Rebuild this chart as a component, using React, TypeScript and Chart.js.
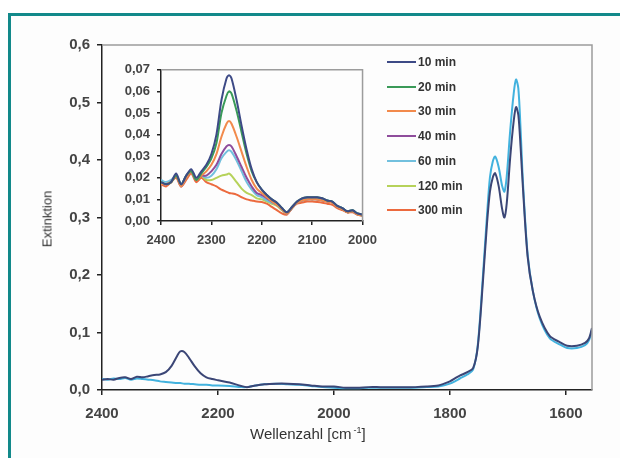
import React, { useEffect, useRef } from "react";
import { Chart, registerables } from "chart.js";

Chart.register(...registerables);

const FONT = "'Liberation Sans', Arial, Helvetica, sans-serif";

// ---------- main chart data ----------
const mainX = [
  2400, 2390, 2380, 2370, 2360, 2350, 2340, 2330, 2320, 2310, 2300,
  2290, 2280, 2270, 2265, 2258, 2250, 2240, 2230, 2220, 2210, 2200,
  2180, 2160, 2150, 2140, 2120, 2100, 2080, 2060, 2040, 2020, 2000,
  1980, 1960, 1940, 1920, 1900, 1880, 1860, 1840, 1820, 1810, 1800,
  1790, 1783, 1770, 1760, 1752, 1743, 1736, 1731, 1726, 1722,
  1716, 1710, 1706, 1702, 1696, 1690, 1686, 1682, 1678, 1674,
  1666, 1657, 1645, 1628, 1610, 1598, 1581, 1567, 1560, 1555,
];
const main10min = [
  0.018, 0.019, 0.018, 0.021, 0.022, 0.019, 0.023, 0.022, 0.024, 0.026, 0.027,
  0.031, 0.042, 0.06, 0.067, 0.066, 0.056, 0.041, 0.029, 0.022, 0.019, 0.017,
  0.013, 0.007, 0.005, 0.007, 0.01, 0.011, 0.011, 0.01, 0.008, 0.006, 0.006,
  0.004, 0.004, 0.005, 0.005, 0.005, 0.005, 0.005, 0.006, 0.008, 0.011, 0.015,
  0.021, 0.025, 0.031, 0.038, 0.075, 0.19, 0.29, 0.345, 0.37, 0.377,
  0.355, 0.315, 0.3, 0.325, 0.405, 0.468, 0.492, 0.478, 0.42, 0.35,
  0.232, 0.172, 0.127, 0.094, 0.083, 0.077, 0.077, 0.082, 0.09, 0.108,
];
const mainLate = [
  0.019, 0.018, 0.02, 0.019, 0.021, 0.018, 0.02, 0.019, 0.018, 0.017, 0.015,
  0.014, 0.013, 0.012, 0.012, 0.011, 0.011, 0.01, 0.009, 0.009, 0.008, 0.008,
  0.007, 0.005, 0.005, 0.007, 0.01, 0.011, 0.01, 0.009, 0.007, 0.005, 0.004,
  0.003, 0.003, 0.004, 0.004, 0.004, 0.004, 0.004, 0.005, 0.006, 0.008, 0.011,
  0.016, 0.02, 0.027, 0.036, 0.078, 0.2, 0.305, 0.37, 0.398, 0.406,
  0.388, 0.355, 0.345, 0.372, 0.452, 0.516, 0.54, 0.524, 0.45, 0.36,
  0.236, 0.172, 0.124, 0.09, 0.079, 0.073, 0.073, 0.078, 0.087, 0.105,
];
const mainXTicks = [2400, 2200, 2000, 1800, 1600];
const mainYTicks = [0, 0.1, 0.2, 0.3, 0.4, 0.5, 0.6];

// ---------- inset data ----------
const insetX = [
  2400, 2390, 2380, 2370, 2360, 2350, 2340, 2330, 2320,
  2310, 2300, 2290, 2280, 2270, 2265, 2260, 2250, 2240, 2230, 2220, 2210, 2200,
  2190, 2180, 2170, 2160, 2150, 2140, 2130, 2120, 2110, 2100,
  2090, 2080, 2070, 2060, 2050, 2040, 2030, 2020, 2010, 2000,
];
const ins10 = [
  0.018, 0.017, 0.018, 0.022, 0.017, 0.021, 0.024, 0.02, 0.023,
  0.026, 0.031, 0.04, 0.056, 0.066, 0.0675, 0.066, 0.056, 0.044, 0.033, 0.024, 0.018, 0.0145,
  0.012, 0.01, 0.0085, 0.006, 0.004, 0.0065, 0.009, 0.0105, 0.011, 0.011,
  0.011, 0.0105, 0.0095, 0.009, 0.007, 0.006, 0.0045, 0.005, 0.0035, 0.003,
];
const ins20 = [
  0.018, 0.017, 0.018, 0.021, 0.017, 0.021, 0.023, 0.019, 0.022,
  0.025, 0.029, 0.036, 0.05, 0.058, 0.06, 0.059, 0.051, 0.041, 0.031, 0.023, 0.018, 0.0145,
  0.012, 0.01, 0.0085, 0.006, 0.004, 0.0065, 0.009, 0.0105, 0.011, 0.011,
  0.011, 0.0105, 0.0095, 0.009, 0.007, 0.006, 0.0045, 0.005, 0.0035, 0.003,
];
const ins30 = [
  0.017, 0.017, 0.018, 0.021, 0.016, 0.02, 0.023, 0.019, 0.021,
  0.023, 0.026, 0.031, 0.039, 0.045, 0.0463, 0.045, 0.039, 0.032, 0.025, 0.019, 0.015, 0.013,
  0.011, 0.009, 0.0075, 0.0055, 0.0035, 0.006, 0.0085, 0.0095, 0.01, 0.01,
  0.01, 0.0095, 0.009, 0.0085, 0.0065, 0.0055, 0.004, 0.0045, 0.003, 0.0025,
];
const ins40 = [
  0.017, 0.017, 0.018, 0.021, 0.016, 0.02, 0.023, 0.019, 0.021,
  0.021, 0.023, 0.026, 0.031, 0.0345, 0.0352, 0.0345, 0.03, 0.025, 0.02, 0.016, 0.013, 0.012,
  0.0105, 0.009, 0.0075, 0.0055, 0.0035, 0.006, 0.0085, 0.0095, 0.01, 0.01,
  0.01, 0.0095, 0.009, 0.0085, 0.0065, 0.0055, 0.004, 0.0045, 0.003, 0.0025,
];
const ins60 = [
  0.019, 0.018, 0.019, 0.021, 0.017, 0.021, 0.023, 0.019, 0.021,
  0.02, 0.021, 0.024, 0.029, 0.032, 0.0327, 0.032, 0.028, 0.023, 0.018, 0.0145, 0.012, 0.011,
  0.0095, 0.0085, 0.0075, 0.0055, 0.0035, 0.006, 0.0085, 0.0095, 0.0105, 0.0105,
  0.0105, 0.01, 0.0095, 0.009, 0.007, 0.006, 0.0045, 0.005, 0.0035, 0.0028,
];
const ins120 = [
  0.018, 0.017, 0.018, 0.021, 0.017, 0.02, 0.023, 0.019, 0.021,
  0.019, 0.019, 0.02, 0.021, 0.0215, 0.022, 0.021, 0.018, 0.015, 0.013, 0.012, 0.0105, 0.01,
  0.009, 0.008, 0.007, 0.005, 0.0035, 0.006, 0.0085, 0.0095, 0.01, 0.01,
  0.01, 0.0095, 0.009, 0.0085, 0.0065, 0.0055, 0.004, 0.0045, 0.003, 0.0025,
];
const ins300 = [
  0.017, 0.016, 0.018, 0.02, 0.016, 0.019, 0.022, 0.018, 0.02,
  0.018, 0.017, 0.016, 0.0145, 0.0135, 0.013, 0.0128, 0.0122, 0.011, 0.01, 0.0095, 0.009, 0.0088,
  0.008, 0.0065, 0.005, 0.0035, 0.003, 0.006, 0.008, 0.0085, 0.009, 0.009,
  0.0088, 0.0085, 0.008, 0.0075, 0.006, 0.005, 0.004, 0.004, 0.003, 0.0025,
];
const insetXTicks = [2400, 2300, 2200, 2100, 2000];
const insetYTicks = [0, 0.01, 0.02, 0.03, 0.04, 0.05, 0.06, 0.07];

const seriesLabels = ["10 min", "20 min", "30 min", "40 min", "60 min", "120 min", "300 min"];
const seriesColors = ["#3d4a86", "#3a9a58", "#f28a4c", "#8f4d9c", "#72c0de", "#b6d25a", "#ec6a3e"];
const insetSeries = [ins10, ins20, ins30, ins40, ins60, ins120, ins300];

const framePlugin = {
  id: "frameTopRight",
  afterDraw(chart: any) {
    const { ctx, chartArea } = chart;
    const { left, right, top, bottom } = chartArea;
    ctx.save();
    ctx.strokeStyle = "#9c9c9c";
    ctx.lineWidth = 1.5;
    ctx.beginPath();
    ctx.moveTo(left, top);
    ctx.lineTo(right, top);
    ctx.lineTo(right, bottom);
    ctx.stroke();
    ctx.restore();
  },
};

function axisCommon(tickLen: number) {
  return {
    grid: { drawOnChartArea: false, drawTicks: true, tickLength: tickLen, color: "#222", lineWidth: 1.5 },
    border: { display: true, color: "#222", width: 1.5 },
  };
}

export default function App() {
  const mainRef = useRef<HTMLCanvasElement>(null);
  const insetRef = useRef<HTMLCanvasElement>(null);

  useEffect(() => {
    Chart.defaults.font.family = FONT;
    const main = new Chart(mainRef.current!, {
      type: "line",
      data: {
        datasets: [
          {
            label: "10 min",
            data: mainX.map((x, i) => ({ x, y: main10min[i] })),
            borderColor: "#3b4676",
            borderWidth: 2,
            pointRadius: 0,
            tension: 0.3,
          },
          {
            label: "60 min",
            data: mainX.map((x, i) => ({ x, y: mainLate[i] })),
            borderColor: "#42b2de",
            borderWidth: 2,
            pointRadius: 0,
            tension: 0.3,
          },
        ],
      },
      options: {
        responsive: false,
        animation: false,
        devicePixelRatio: 1,
        layout: { padding: { top: 45, right: 28, left: 0, bottom: 0 } },
        plugins: { legend: { display: false }, tooltip: { enabled: false } },
        scales: {
          x: {
            type: "linear",
            reverse: true,
            min: 1555,
            max: 2400,
            afterBuildTicks: (a: any) => {
              a.ticks = mainXTicks.map((v) => ({ value: v }));
            },
            afterFit: (a: any) => {
              a.height = 68;
            },
            ...axisCommon(5),
            ticks: {
              font: { size: 15, weight: "bold" },
              color: "#444",
              padding: 10,
              maxRotation: 0,
              autoSkip: false,
              callback: (v: any) => String(v),
            },
          },
          y: {
            type: "linear",
            min: 0,
            max: 0.6,
            afterBuildTicks: (a: any) => {
              a.ticks = mainYTicks.map((v) => ({ value: v }));
            },
            afterFit: (a: any) => {
              a.width = 102;
            },
            ...axisCommon(5),
            ticks: {
              font: { size: 15, weight: "bold" },
              color: "#444",
              padding: 7,
              autoSkip: false,
              callback: (v: any) => Number(v).toFixed(1).replace(".", ","),
            },
          },
        },
      } as any,
      plugins: [framePlugin],
    });

    const inset = new Chart(insetRef.current!, {
      type: "line",
      data: {
        datasets: insetSeries.map((arr, k) => ({
          label: seriesLabels[k],
          data: insetX.map((x, i) => ({ x, y: arr[i] })),
          borderColor: seriesColors[k],
          borderWidth: 2,
          pointRadius: 0,
          tension: 0.3,
        })),
      },
      options: {
        responsive: false,
        animation: false,
        devicePixelRatio: 1,
        layout: { padding: { top: 10, right: 17, left: 0, bottom: 0 } },
        plugins: { legend: { display: false }, tooltip: { enabled: false } },
        scales: {
          x: {
            type: "linear",
            reverse: true,
            min: 2000,
            max: 2400,
            afterBuildTicks: (a: any) => {
              a.ticks = insetXTicks.map((v) => ({ value: v }));
            },
            afterFit: (a: any) => {
              a.height = 34;
            },
            ...axisCommon(4),
            ticks: {
              font: { size: 13, weight: "bold" },
              color: "#444",
              padding: 8,
              maxRotation: 0,
              autoSkip: false,
              callback: (v: any) => String(v),
            },
          },
          y: {
            type: "linear",
            min: 0,
            max: 0.07,
            afterBuildTicks: (a: any) => {
              a.ticks = insetYTicks.map((v) => ({ value: v }));
            },
            afterFit: (a: any) => {
              a.width = 56;
            },
            ...axisCommon(4),
            ticks: {
              font: { size: 13, weight: "bold" },
              color: "#444",
              padding: 7,
              autoSkip: false,
              callback: (v: any) => Number(v).toFixed(2).replace(".", ","),
            },
          },
        },
      } as any,
      plugins: [framePlugin],
    });

    return () => {
      main.destroy();
      inset.destroy();
    };
  }, []);

  return (
    <div
      style={{
        position: "fixed",
        left: 0,
        top: 0,
        width: 620,
        height: 458,
        background: "#ffffff",
        overflow: "hidden",
        fontFamily: FONT,
      }}
    >
      <div
        style={{
          position: "absolute",
          left: 8,
          top: 13,
          width: 700,
          height: 600,
          borderTop: "3px solid #12898a",
          borderLeft: "3px solid #12898a",
          background: "#fdfdfd",
        }}
      />
      <canvas
        ref={mainRef}
        width={620}
        height={458}
        style={{ position: "absolute", left: 0, top: 0, width: 620, height: 458 }}
      />
      <canvas
        ref={insetRef}
        width={280}
        height={200}
        style={{ position: "absolute", left: 105, top: 55, width: 280, height: 200 }}
      />
      {seriesLabels.map((lab, i) => {
        const cy = 62 + i * 24.7;
        return (
          <React.Fragment key={lab}>
            <div
              style={{
                position: "absolute",
                left: 387,
                top: cy - 1,
                width: 29,
                height: 2,
                background: seriesColors[i],
              }}
            />
            <div
              style={{
                position: "absolute",
                left: 418,
                top: cy - 8,
                height: 16,
                lineHeight: "16px",
                fontSize: 12,
                fontWeight: "bold",
                color: "#333",
                whiteSpace: "nowrap",
              }}
            >
              {lab}
            </div>
          </React.Fragment>
        );
      })}
      <div
        style={{
          position: "absolute",
          left: 46.5,
          top: 219,
          transform: "translate(-50%, -50%) rotate(-90deg)",
          fontSize: 13,
          color: "#333",
          whiteSpace: "nowrap",
          lineHeight: "15px",
        }}
      >
        Extinktion
      </div>
      <div
        style={{
          position: "absolute",
          left: 250,
          top: 425,
          fontSize: 15,
          lineHeight: "18px",
          color: "#333",
          whiteSpace: "nowrap",
        }}
      >
        Wellenzahl [cm
        <span style={{ fontSize: 9, position: "relative", top: -6, marginLeft: 2 }}>-1</span>]
      </div>
    </div>
  );
}
